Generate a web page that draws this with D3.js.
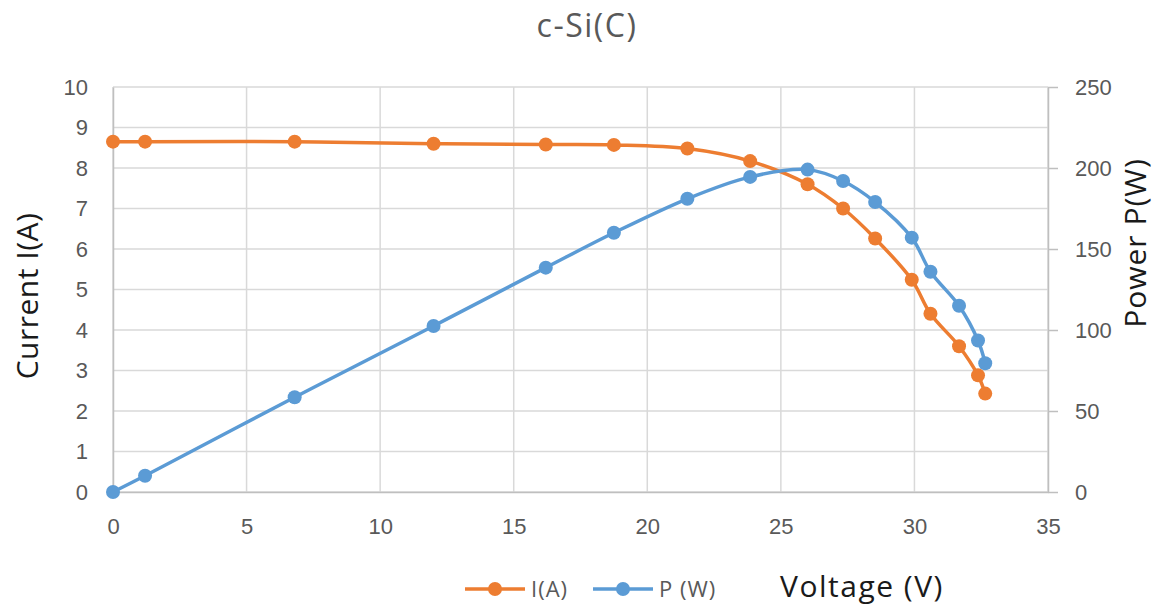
<!DOCTYPE html>
<html>
<head>
<meta charset="utf-8">
<script src="https://cdn.jsdelivr.net/npm/d3@7"></script>
<style>
  body { margin: 0; background: #fff; }
  svg { font-family: "Open Sans", "Noto Sans", sans-serif; }
  .tick text { fill: #595959; font-size: 22px; }
</style>
</head>
<body>
<svg id="chart" width="1160" height="608"></svg>
<script>
// Voltage readings (V)
const voltage = [0, 1.2, 6.8, 12, 16.2, 18.75, 21.5, 23.85, 26.0, 27.33, 28.53, 29.9, 30.6, 31.67, 32.38, 32.65];
// Current I(A)
const current = [8.65, 8.65, 8.65, 8.6, 8.58, 8.57, 8.48, 8.17, 7.6, 7.0, 6.26, 5.24, 4.4, 3.6, 2.88, 2.43];
// Power P(W)
const power = [0, 10, 58.5, 102.5, 138.5, 160, 181, 194.5, 199, 192, 179, 157, 136, 115, 93.5, 79.5];

const xTicks = [0, 5, 10, 15, 20, 25, 30, 35];
const yTicks = [0, 1, 2, 3, 4, 5, 6, 7, 8, 9, 10];
const y2Ticks = [0, 50, 100, 150, 200, 250];

const orange = "#ED7D31";
const blue = "#5B9BD5";
const grid = "#D9D9D9";

const svg = d3.select("#chart");
const plot = { left: 113, right: 1048, top: 87, bottom: 492 };

const x = d3.scaleLinear().domain([0, 35]).range([plot.left, plot.right]);
const y = d3.scaleLinear().domain([0, 10]).range([plot.bottom, plot.top]);
const y2 = d3.scaleLinear().domain([0, 250]).range([plot.bottom, plot.top]);

// gridlines
svg.append("g")
  .selectAll("line")
  .data(yTicks)
  .join("line")
  .attr("x1", plot.left).attr("x2", plot.right)
  .attr("y1", (d) => y(d)).attr("y2", (d) => y(d))
  .attr("stroke", grid).attr("stroke-width", 1.5);

svg.append("g")
  .selectAll("line")
  .data(xTicks)
  .join("line")
  .attr("x1", (d) => x(d)).attr("x2", (d) => x(d))
  .attr("y1", plot.top).attr("y2", plot.bottom)
  .attr("stroke", grid).attr("stroke-width", 1.5);

// axes
const xAxis = svg.append("g")
  .attr("transform", `translate(0,${plot.bottom})`)
  .call(d3.axisBottom(x).tickValues(xTicks).tickSize(0).tickPadding(26));
xAxis.select(".domain").attr("stroke", "#BFBFBF").attr("stroke-width", 1.5);

const yAxis = svg.append("g")
  .attr("transform", `translate(${plot.left},0)`)
  .call(d3.axisLeft(y).tickValues(yTicks).tickSize(0).tickPadding(25));
yAxis.select(".domain").attr("stroke", "#BFBFBF").attr("stroke-width", 1.5);

const y2Axis = svg.append("g")
  .attr("transform", `translate(${plot.right},0)`)
  .call(d3.axisRight(y2).tickValues(y2Ticks).tickSize(10).tickPadding(17).tickSizeOuter(0));
y2Axis.select(".domain").attr("stroke", "#BFBFBF").attr("stroke-width", 1.5);
y2Axis.selectAll(".tick line").attr("stroke", "#BFBFBF").attr("stroke-width", 1.5);

// series
const ptsI = voltage.map((v, i) => [v, current[i]]);
const ptsP = voltage.map((v, i) => [v, power[i]]);

const lineI = d3.line().x((d) => x(d[0])).y((d) => y(d[1])).curve(d3.curveCatmullRom.alpha(0.5));
const lineP = d3.line().x((d) => x(d[0])).y((d) => y2(d[1])).curve(d3.curveCatmullRom.alpha(0.5));

svg.append("path").attr("d", lineI(ptsI)).attr("fill", "none").attr("stroke", orange).attr("stroke-width", 3.5);
svg.append("g").selectAll("circle").data(ptsI).join("circle")
  .attr("cx", (d) => x(d[0])).attr("cy", (d) => y(d[1])).attr("r", 7).attr("fill", orange);

svg.append("path").attr("d", lineP(ptsP)).attr("fill", "none").attr("stroke", blue).attr("stroke-width", 3.5);
svg.append("g").selectAll("circle").data(ptsP).join("circle")
  .attr("cx", (d) => x(d[0])).attr("cy", (d) => y2(d[1])).attr("r", 7).attr("fill", blue);

// title
svg.append("text").attr("x", 587).attr("y", 37).attr("text-anchor", "middle")
  .attr("fill", "#595959").attr("font-size", 32).attr("letter-spacing", 1.5).text("c-Si(C)");

// axis titles
svg.append("text").attr("transform", "translate(38,296) rotate(-90)").attr("text-anchor", "middle")
  .attr("fill", "#1a1a1a").attr("font-size", 30).attr("letter-spacing", 0.5).text("Current I(A)");
svg.append("text").attr("transform", "translate(1146,243) rotate(-90)").attr("text-anchor", "middle")
  .attr("fill", "#1a1a1a").attr("font-size", 30).attr("letter-spacing", 1).text("Power P(W)");
svg.append("text").attr("x", 862).attr("y", 597).attr("text-anchor", "middle")
  .attr("fill", "#1a1a1a").attr("font-size", 30).attr("letter-spacing", 1.5).text("Voltage (V)");

// legend
const legend = [
  { label: "I(A)", color: orange, x: 465 },
  { label: "P (W)", color: blue, x: 593 },
];
const lg = svg.append("g").selectAll("g").data(legend).join("g")
  .attr("transform", (d) => `translate(${d.x},589)`);
lg.append("line").attr("x1", 0).attr("x2", 60).attr("stroke", (d) => d.color).attr("stroke-width", 3.5);
lg.append("circle").attr("cx", 30).attr("r", 7).attr("fill", (d) => d.color);
lg.append("text").attr("x", 66).attr("y", 8).attr("fill", "#595959").attr("font-size", 22)
  .attr("letter-spacing", 1).text((d) => d.label);
</script>
</body>
</html>
